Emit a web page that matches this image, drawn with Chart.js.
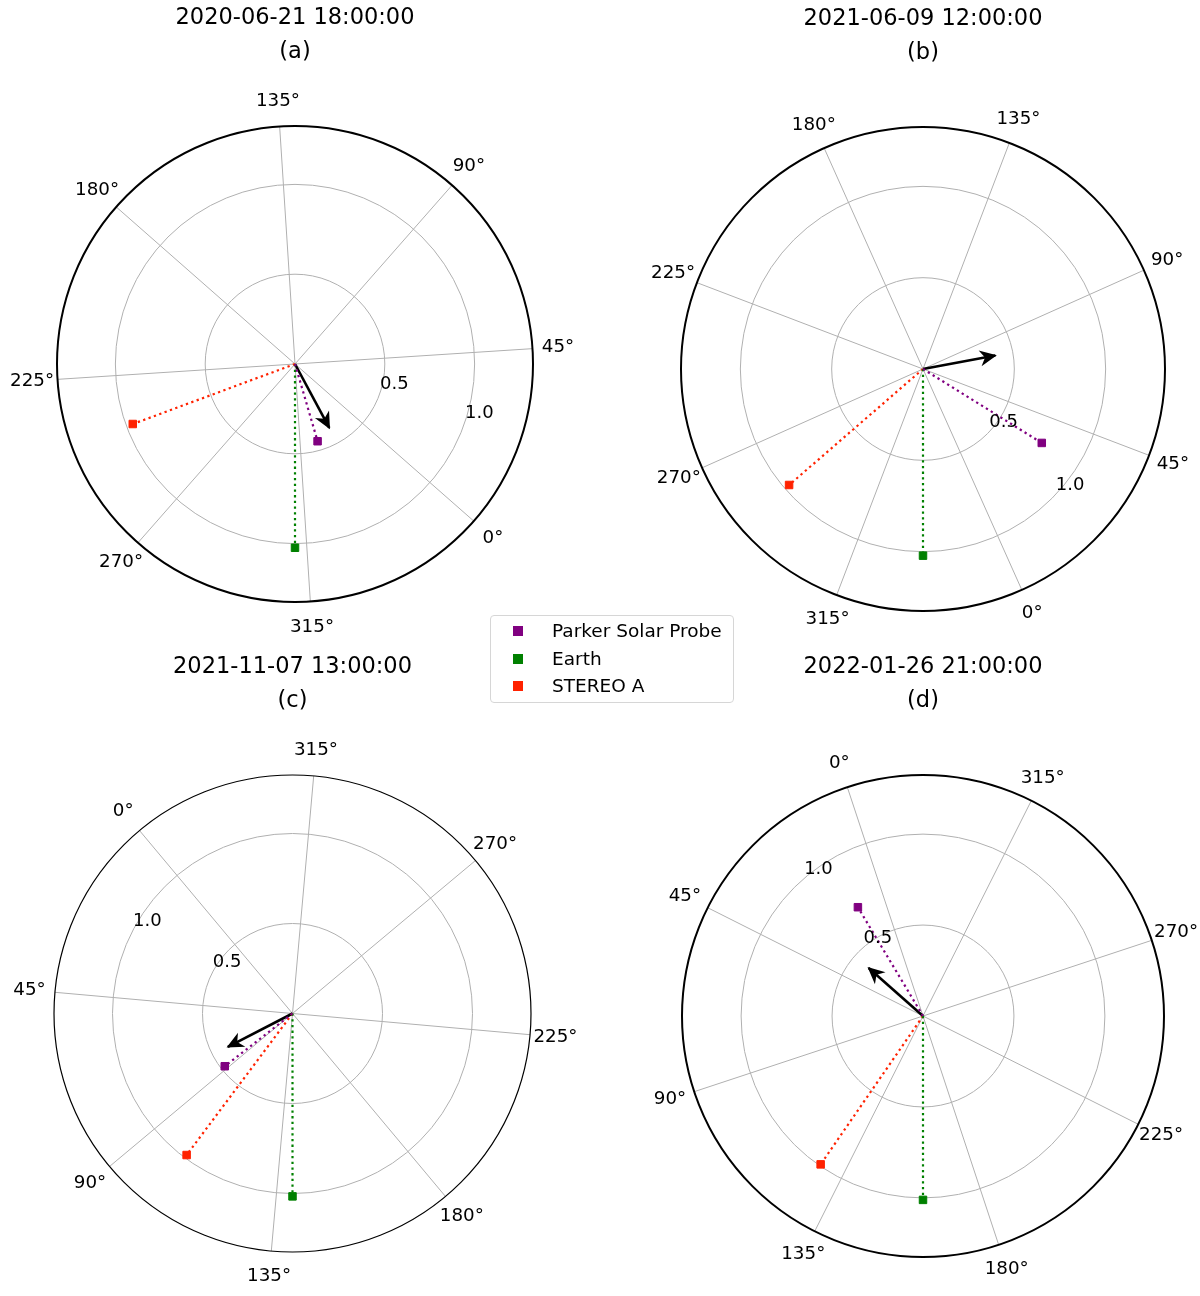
<!DOCTYPE html>
<html>
<head>
<meta charset="utf-8">
<script src="https://cdn.jsdelivr.net/npm/chart.js@4.4.1/dist/chart.umd.min.js"></script>
<style>
  html, body { margin: 0; background: #fff; }
  #fig { position: relative; width: 1200px; height: 1296px; font-family: 'DejaVu Sans', sans-serif; }
  .panel { position: absolute; }
  .legend {
    position: absolute; left: 490px; top: 615px; width: 242px; height: 86px;
    border: 1px solid #d6d6d6; border-radius: 4px; background: rgba(255,255,255,0.85);
    font-size: 18.5px; color: #000;
  }
  .legend .row { position: absolute; left: 0; height: 22px; line-height: 22px; }
  .legend .mk { position: absolute; left: 22px; top: 6px; width: 10px; height: 10px; }
  .legend .tx { position: absolute; left: 61px; top: 0; white-space: nowrap; }
</style>
</head>
<body>
<div id="fig">
  <div class="panel" style="left:0;top:0"><canvas id="chartA" width="600" height="640"></canvas></div>
  <div class="panel" style="left:600px;top:0"><canvas id="chartB" width="600" height="640"></canvas></div>
  <div class="panel" style="left:0;top:640px"><canvas id="chartC" width="600" height="656"></canvas></div>
  <div class="panel" style="left:600px;top:640px"><canvas id="chartD" width="600" height="656"></canvas></div>
  <div class="legend" id="legend"></div>
</div>
<script>
/* ---- data: one entry per panel (a)..(d) ---- */
const PANEL_TITLES = ['2020-06-21 18:00:00', '2021-06-09 12:00:00', '2021-11-07 13:00:00', '2022-01-26 21:00:00'];
const PANEL_LETTERS = ['(a)', '(b)', '(c)', '(d)'];
const THETA_ZERO = [-41.3, -65.9, 129.9, 108.3];   // where 0° points, deg ccw from east

const BODIES = ['Parker Solar Probe', 'Earth', 'STEREO A'];
const BODY_COLORS = ['#800080', '#008000', '#ff2200'];

const PSP_LON = [327.6, 34.0, 88.0, 12.6];
const PSP_R = [0.448, 0.766, 0.477, 0.697];
const EARTH_LON = [311.3, 335.9, 140.1, 161.7];
const EARTH_R = [1.023, 1.022, 1.016, 1.011];
const STA_LON = [241.6, 286.8, 103.3, 127.1];
const STA_R = [0.963, 0.970, 0.982, 0.991];
const ARROW_LON = [339.5, 76.5, 77.4, 30.2];
const ARROW_R = [0.404, 0.403, 0.404, 0.399];

const THETA_TICKS = [0, 45, 90, 135, 180, 225, 270, 315];
const R_TICKS = [0.5, 1.0];
const R_LABEL_POS = 22.5;
const R_MAX = 1.325;

/* ---- layout: canvas id, padding that makes the chart area the polar disc ---- */
const PANELS = [
  { id: 'chartA', pad: { left: 57, top: 126, right: 67, bottom: 38 }, spine: 2 },
  { id: 'chartB', pad: { left: 81, top: 127, right: 35, bottom: 29 }, spine: 2 },
  { id: 'chartC', pad: { left: 54, top: 135, right: 69, bottom: 44 }, spine: 1.2 },
  { id: 'chartD', pad: { left: 82, top: 135, right: 36, bottom: 39 }, spine: 2 },
];

const toXY = (lon, r, zero) => {
  const a = (lon + zero) * Math.PI / 180;
  return { x: r * Math.cos(a), y: r * Math.sin(a) };
};

/* ---- polar grid, spine, tick labels, arrow head, titles ---- */
const polarFrame = {
  id: 'polarFrame',
  beforeDatasetsDraw(chart, args, opts) {
    const { ctx, scales: { x, y } } = chart;
    const cx = x.getPixelForValue(0), cy = y.getPixelForValue(0);
    const rx = (r) => x.getPixelForValue(r) - cx;
    const ry = (r) => cy - y.getPixelForValue(r);
    ctx.save();
    ctx.strokeStyle = '#b0b0b0';
    ctx.lineWidth = 1;
    R_TICKS.forEach((r) => {
      ctx.beginPath();
      ctx.ellipse(cx, cy, rx(r), ry(r), 0, 0, Math.PI * 2);
      ctx.stroke();
    });
    THETA_TICKS.forEach((t) => {
      const a = (t + opts.zero) * Math.PI / 180;
      ctx.beginPath();
      ctx.moveTo(cx, cy);
      ctx.lineTo(cx + rx(R_MAX) * Math.cos(a), cy - ry(R_MAX) * Math.sin(a));
      ctx.stroke();
    });
    ctx.restore();
  },
  afterDatasetsDraw(chart, args, opts) {
    const { ctx, scales: { x, y }, chartArea } = chart;
    const cx = x.getPixelForValue(0), cy = y.getPixelForValue(0);
    const rx = (r) => x.getPixelForValue(r) - cx;
    const ry = (r) => cy - y.getPixelForValue(r);
    ctx.save();

    // arrow head on the last dataset
    const meta = chart.getDatasetMeta(chart.data.datasets.length - 1);
    const p0 = meta.data[0], p1 = meta.data[1];
    const ang = Math.atan2(p1.y - p0.y, p1.x - p0.x);
    const ux = Math.cos(ang), uy = Math.sin(ang);
    const tx = p1.x + ux * 1.5, ty = p1.y + uy * 1.5;
    const L = 17, W = 8, N = 5;
    ctx.fillStyle = '#000';
    ctx.beginPath();
    ctx.moveTo(tx, ty);
    ctx.lineTo(tx - ux * L - uy * W, ty - uy * L + ux * W);
    ctx.lineTo(tx - ux * (L - N), ty - uy * (L - N));
    ctx.lineTo(tx - ux * L + uy * W, ty - uy * L - ux * W);
    ctx.closePath();
    ctx.fill();

    // spine
    ctx.strokeStyle = '#000';
    ctx.lineWidth = opts.spine;
    ctx.beginPath();
    ctx.ellipse(cx, cy, rx(R_MAX), ry(R_MAX), 0, 0, Math.PI * 2);
    ctx.stroke();

    // theta labels
    ctx.fillStyle = '#000';
    ctx.font = "18.3px 'DejaVu Sans'";
    ctx.textAlign = 'center';
    ctx.textBaseline = 'middle';
    THETA_TICKS.forEach((t) => {
      const a = (t + opts.zero) * Math.PI / 180;
      const px = cx + (rx(R_MAX) + 25.5) * Math.cos(a);
      const py = cy - (ry(R_MAX) + 25.5) * Math.sin(a);
      ctx.fillText(`${t}°`, px, py);
    });

    // r labels
    ctx.font = "18px 'DejaVu Sans'";
    ctx.textAlign = 'left';
    ctx.textBaseline = 'bottom';
    const ra = (R_LABEL_POS + opts.zero) * Math.PI / 180;
    R_TICKS.forEach((r) => {
      ctx.fillText(r.toFixed(1), cx + rx(r) * Math.cos(ra), cy - ry(r) * Math.sin(ra));
    });

    // titles
    ctx.textAlign = 'center';
    ctx.textBaseline = 'middle';
    ctx.font = "22.5px 'DejaVu Sans'";
    ctx.fillText(opts.title, cx, chartArea.top - 108);
    ctx.fillText(opts.letter, cx, chartArea.top - 74);
    ctx.restore();
  },
};

function buildPanel(i) {
  const zero = THETA_ZERO[i];
  const positions = [
    toXY(PSP_LON[i], PSP_R[i], zero),
    toXY(EARTH_LON[i], EARTH_R[i], zero),
    toXY(STA_LON[i], STA_R[i], zero),
  ];
  const datasets = BODIES.map((name, k) => ({
    label: name,
    data: [{ x: 0, y: 0 }, positions[k]],
    showLine: true,
    borderColor: BODY_COLORS[k],
    backgroundColor: BODY_COLORS[k],
    borderWidth: 2.2,
    borderDash: [2.3, 3.4],
    pointStyle: 'rect',
    pointRadius: [0, 5.3],
    pointBorderWidth: 1,
    clip: false,
  }));
  datasets.push({
    label: 'direction',
    data: [{ x: 0, y: 0 }, toXY(ARROW_LON[i], ARROW_R[i], zero)],
    showLine: true,
    borderColor: '#000',
    borderWidth: 2.6,
    pointRadius: 0,
    clip: false,
  });

  const p = PANELS[i];
  new Chart(document.getElementById(p.id), {
    type: 'scatter',
    data: { datasets },
    options: {
      responsive: false,
      animation: false,
      layout: { padding: p.pad },
      scales: {
        x: { type: 'linear', min: -R_MAX, max: R_MAX, display: false },
        y: { type: 'linear', min: -R_MAX, max: R_MAX, display: false },
      },
      plugins: {
        legend: { display: false },
        tooltip: { enabled: false },
        polarFrame: { zero, spine: p.spine, title: PANEL_TITLES[i], letter: PANEL_LETTERS[i] },
      },
    },
    plugins: [polarFrame],
  });
}

/* ---- shared legend ---- */
function renderLegend() {
  const rowsY = [4, 31.5, 59];
  document.getElementById('legend').innerHTML = BODIES.map((name, k) => `
    <div class="row" style="top:${rowsY[k]}px">
      <span class="mk" style="background:${BODY_COLORS[k]}"></span>
      <span class="tx">${name}</span>
    </div>`).join('');
}

PANELS.forEach((p, i) => buildPanel(i));
renderLegend();
</script>
</body>
</html>
